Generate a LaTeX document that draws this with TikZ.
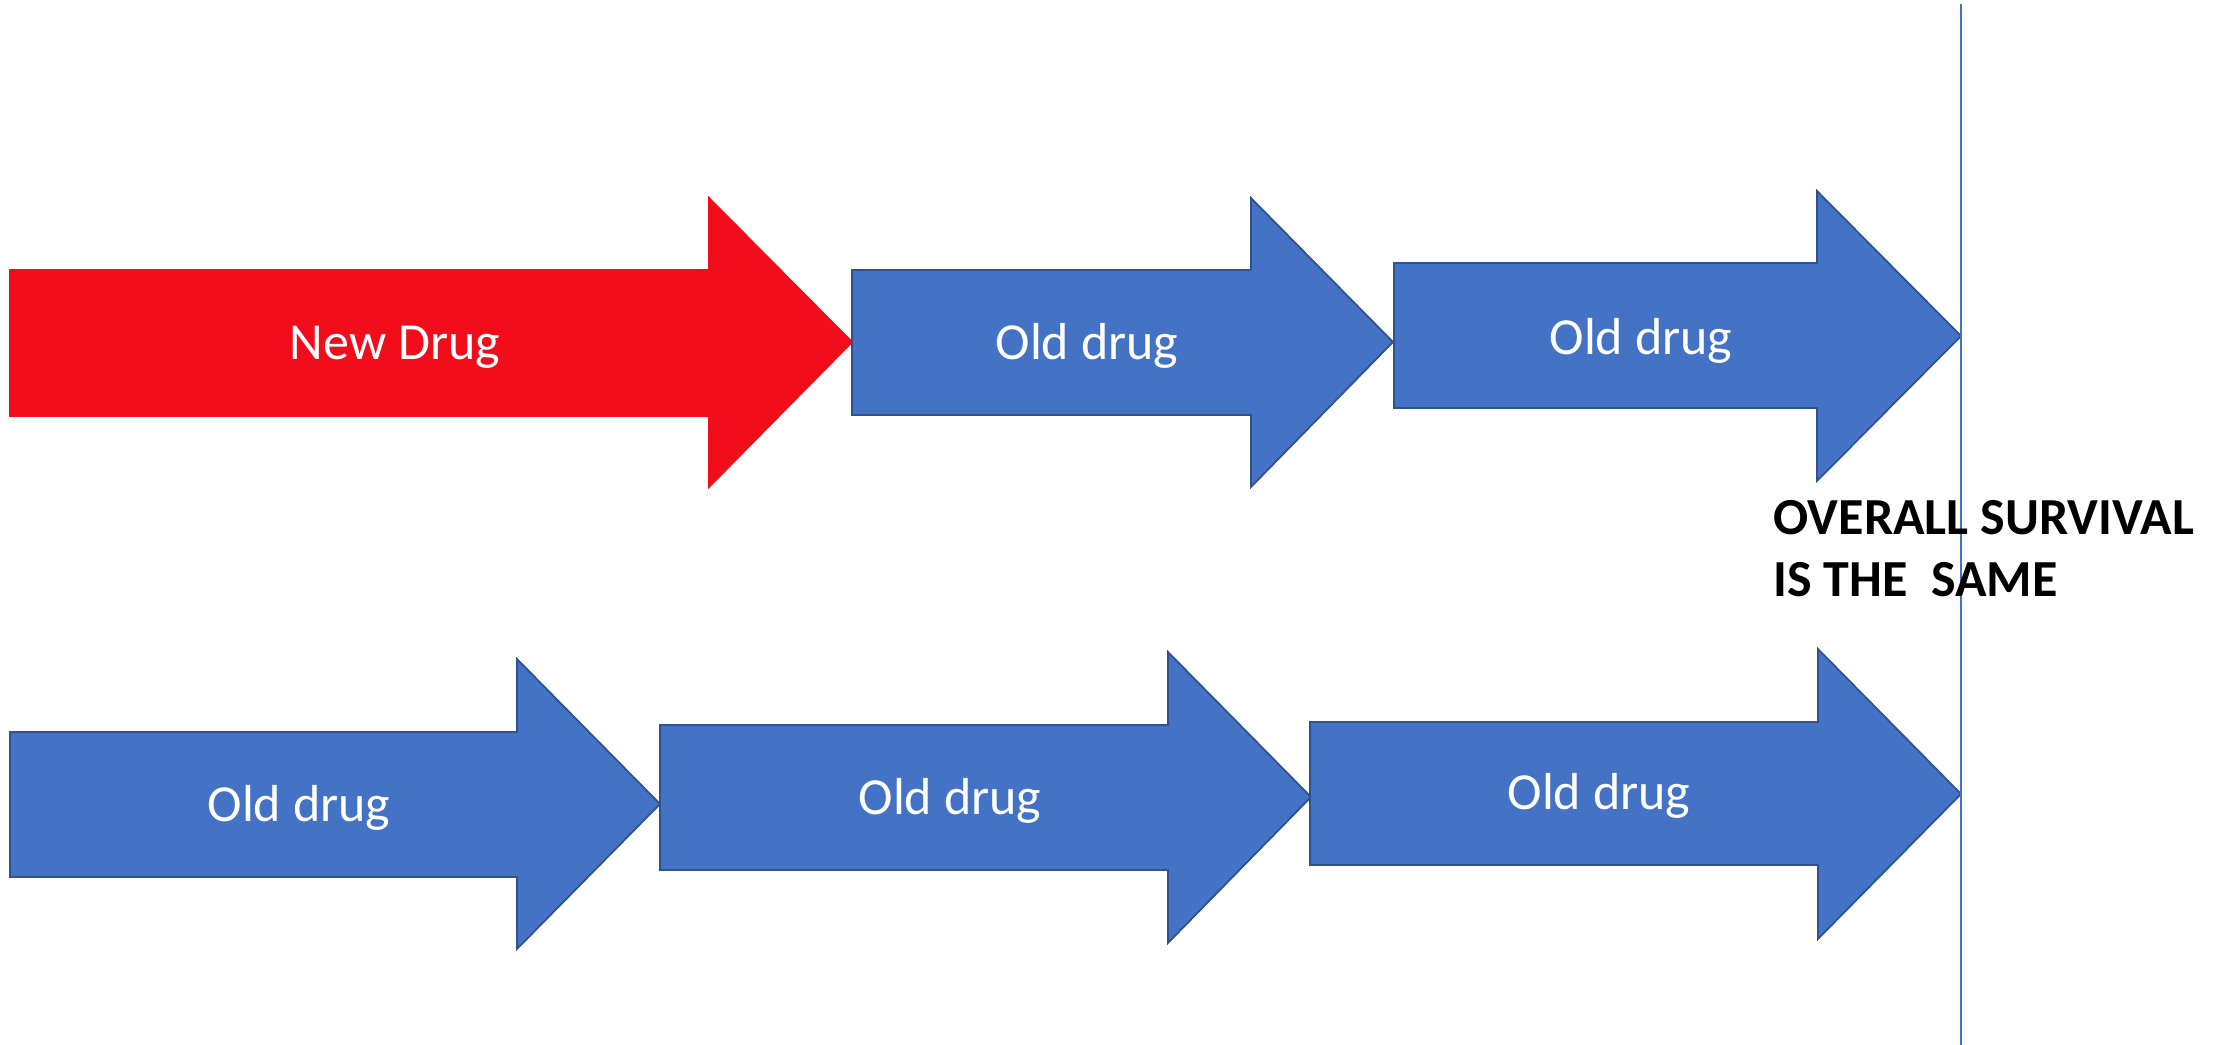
\documentclass[tikz,border=0pt]{standalone}
\usepackage{fontspec}
\setmainfont{Carlito}
\usepackage{tikz}
\usetikzlibrary{positioning}

\definecolor{oldblue}{RGB}{68,114,196}
\definecolor{oldedge}{RGB}{47,82,143}
\definecolor{newred}{RGB}{241,14,26}

\begin{document}
\begin{tikzpicture}[oldarrow/.style={fill=oldblue, draw=oldedge, line width=0.5pt, line join=miter},
  newarrow/.style={fill=newred, draw=newred, line width=0.5pt, line join=miter},
  druglabel/.style={text=white, inner sep=0pt, anchor=base, font=\fontsize{14.8}{17}\selectfont}]

\useasboundingbox (0,0) rectangle (22.27,10.45);

\draw[newarrow] (0.10,7.75) -- (7.09,7.75) -- (7.09,8.47) -- (8.52,7.03) -- (7.09,5.58) -- (7.09,6.29) -- (0.10,6.29) -- cycle;
\draw[oldarrow] (8.52,7.75) -- (12.51,7.75) -- (12.51,8.47) -- (13.93,7.03) -- (12.51,5.58) -- (12.51,6.30) -- (8.52,6.30) -- cycle;
\draw[oldarrow] (13.94,7.82) -- (18.17,7.82) -- (18.17,8.54) -- (19.61,7.09) -- (18.17,5.64) -- (18.17,6.37) -- (13.94,6.37) -- cycle;

\draw[oldarrow] (0.10,3.13) -- (5.17,3.13) -- (5.17,3.86) -- (6.60,2.41) -- (5.17,0.96) -- (5.17,1.68) -- (0.10,1.68) -- cycle;
\draw[oldarrow] (6.60,3.20) -- (11.68,3.20) -- (11.68,3.93) -- (13.11,2.48) -- (11.68,1.02) -- (11.68,1.75) -- (6.60,1.75) -- cycle;
\draw[oldarrow] (13.10,3.23) -- (18.18,3.23) -- (18.18,3.96) -- (19.61,2.51) -- (18.18,1.06) -- (18.18,1.80) -- (13.10,1.80) -- cycle;

\node[druglabel] at (3.95,6.85) (new) {New Drug};
\node[druglabel] at (10.87,6.85) (olda) {Old drug};
\node[druglabel] at (16.41,6.90) (oldb) {Old drug};
\node[druglabel] at (2.99,2.23) (oldc) {Old drug};
\node[druglabel] at (9.50,2.30) (oldd) {Old drug};
\node[druglabel] at (15.99,2.35) (olde) {Old drug};

\coordinate (linetop) at (19.61,10.41);
\coordinate (linebot) at (19.61,0);
\draw[oldblue, line width=0.6pt] (linetop) -- (linebot);

\node[anchor=north west, inner sep=0pt, align=left, font=\bfseries\fontsize{14.8}{17.6}\selectfont] at (17.73,5.45) (os) {OVERALL SURVIVAL\\IS THE\ \ SAME};

\end{tikzpicture}
\end{document}
